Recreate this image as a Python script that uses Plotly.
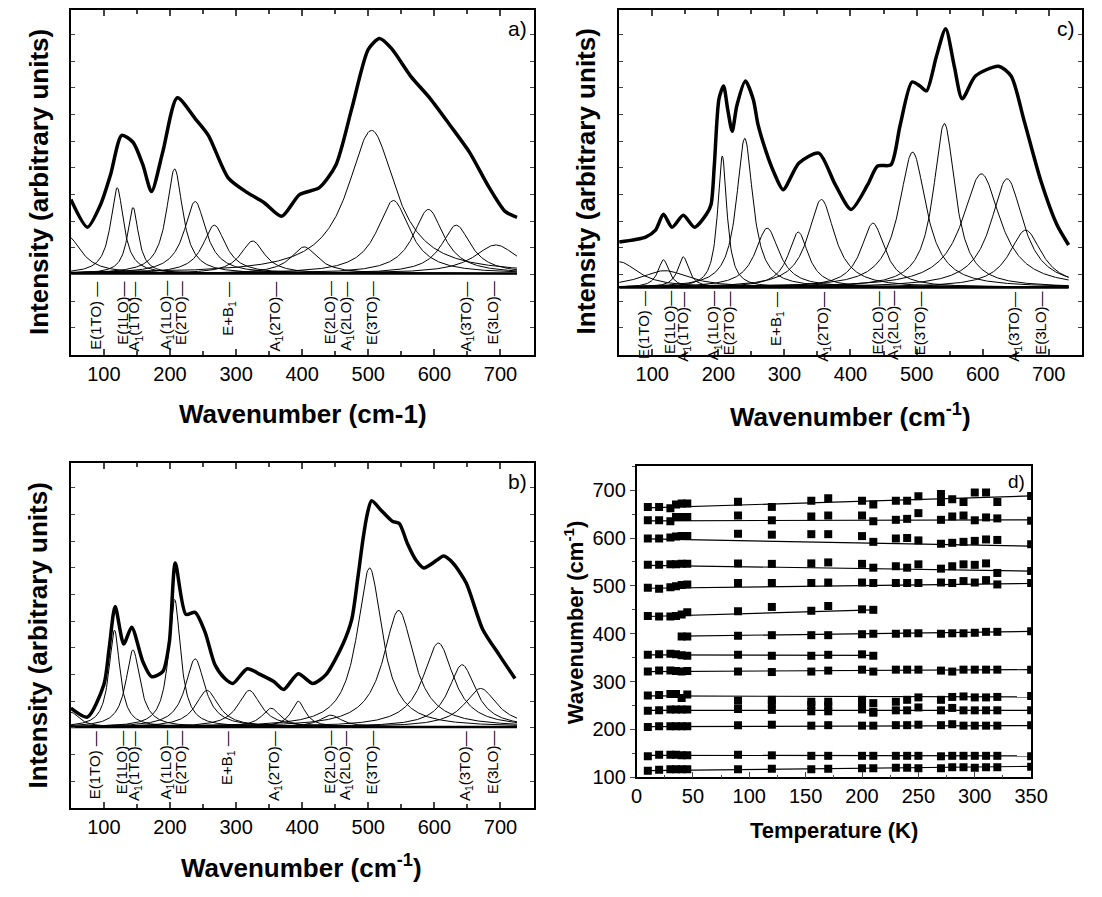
import numpy as np
import plotly.graph_objects as go

FONT = "Liberation Sans, Arial, Helvetica, sans-serif"
W, H = 1102, 897

# ---------------- data ----------------
mode_labels = ["E(1TO) \u2014", "E(1LO)\u2014", "A<sub>1</sub>(1TO)\u2014", "A<sub>1</sub>(1LO)\u2014",
               "E(2TO)\u2014", "E+B<sub>1</sub> \u2014", "A<sub>1</sub>(2TO)\u2014", "E(2LO)\u2014",
               "A<sub>1</sub>(2LO)\u2014", "E(3TO)\u2014", "A<sub>1</sub>(3TO)\u2014", "E(3LO)\u2014"]
mode_wn = [87, 127, 147, 194, 216, 288, 359, 441, 466, 505, 648, 688]

# panel a: measured spectrum
a_wn = [50, 75, 95, 110, 127, 144, 159, 172, 189, 211, 238, 258, 288, 317, 342, 369, 396, 426, 451,
        475, 500, 517, 535, 564, 594, 624, 653, 683, 707, 725]
a_int = [75, 47, 70, 100, 140, 133, 110, 83, 123, 178, 157, 140, 97, 82, 72, 58, 80, 87, 110,
         167, 227, 238, 228, 200, 177, 150, 123, 87, 63, 57]
# panel a: fitted bands (centre, height, half width)
a_cen = [45, 120, 144, 207, 238, 267, 325, 403, 505, 538, 591, 633, 693]
a_hgt = [38, 87, 67, 106, 73, 49, 33, 27, 145, 74, 65, 49, 29]
a_hw = [25, 12, 10, 15, 20, 21, 22, 25, 44, 30, 28, 27, 40]

# panel b
b_wn = [50, 75, 100, 108, 117, 130, 142, 159, 172, 189, 199, 208, 224, 238, 253, 268, 283, 295, 317,
        337, 357, 372, 394, 416, 436, 461, 475, 484, 492, 498, 505, 520, 537, 547, 559, 572, 584, 604,
        614, 628, 648, 673, 698, 722]
b_int = [19, 10, 43, 80, 122, 84, 101, 66, 51, 56, 86, 166, 114, 116, 96, 63, 49, 44, 59,
         53, 46, 38, 54, 44, 53, 83, 109, 150, 190, 214, 229, 219, 208, 206, 186, 169, 161, 169,
         173, 166, 146, 99, 73, 49]
b_cen = [50, 116, 144, 207, 238, 256, 320, 353, 394, 443, 502, 546, 606, 642, 670]
b_hgt = [15, 98, 78, 129, 69, 37, 37, 19, 26, 12, 161, 118, 85, 63, 39]
b_hw = [15, 10, 13, 11, 18, 21, 21, 17, 13, 20, 23, 28, 28, 25, 30]

# panel c
c_wn = [50, 90, 105, 117, 130, 147, 164, 182, 189, 194, 201, 208, 214, 221, 228, 241, 253, 260, 272,
        285, 298, 322, 352, 377, 401, 426, 441, 461, 475, 493, 505, 515, 530, 544, 557, 569, 589,
        624, 643, 663, 688, 712, 730]
c_int = [46, 51, 58, 74, 61, 73, 61, 74, 84, 124, 191, 204, 181, 158, 184, 209, 190, 165, 138,
         115, 99, 126, 136, 104, 79, 104, 123, 124, 164, 208, 204, 199, 234, 262, 224, 191, 214,
         224, 214, 168, 108, 64, 43]
c_cen = [50, 119, 117, 147, 206, 240, 274, 321, 356, 434, 494, 542, 598, 637, 665]
c_hgt = [26, 17, 28, 31, 133, 151, 60, 56, 89, 65, 137, 166, 115, 110, 58]
c_hw = [35, 45, 10, 10, 8.5, 15, 22, 18.5, 24.5, 22, 25, 20, 35, 30, 30]

# panel d: mode frequency vs temperature
temps = [10, 20, 30, 35, 40, 45, 90, 120, 155, 170, 200, 210, 230, 240, 250, 270, 280, 290, 300, 310, 320, 350]
d_s1 = [114, 116, 117, 117, 117, 117, 117, 118, 117, 118, 119, 119, 120, 120, 119, 119, 121, 121, 120, 121, 121, 122]
d_s2 = [144, 147, 147, 147, 146, 146, 147, 146, 145, 145, 145, 145, 145, 145, 145, 144, 145, 145, 145, 145, 145, 144]
d_s3 = [205, 207, 207, 207, 207, 207, 209, 210, 208, 209, 208, 208, 209, 209, 210, 209, 211, 208, 208, 208, 208, 209]
d_s4 = [239, 240, 242, 242, 242, 242, 243, 241, 238, 238, 242, 235, 240, 240, 246, 240, 245, 240, 240, 240, 240, 240]
d_s5 = [271, 272, 274, 274, 266, 273, 260, 262, 258, 258, 262, 255, 258, 262, 267, 262, 268, 269, 267, 267, 268, 270]
d_s6 = [321, 323, 323, 322, 321, 322, 321, 320, 321, 323, 325, 321, 325, 325, 325, 323, 321, 325, 325, 325, 325, 325]
d_s8 = [None, None, None, None, 394, 394, 396, 397, 397, 397, 399, 400, 400, 401, 401, 400, 401, 401, 402, 404, 404, 405]
d_s10 = [496, 494, 497, 499, 502, 503, 506, 506, 506, 507, 507, 506, 506, 506, 506, 507, 506, 510, 507, 512, 503, 506]
d_s11 = [544, 544, 545, 545, 546, 546, 547, 546, 547, 549, 546, 538, 541, 538, 545, 536, 541, 545, 544, 547, 527, 531]
d_s12 = [599, 599, 601, 603, 604, 604, 609, 607, 608, 608, 604, 592, 599, 600, 595, 588, 590, 592, 594, 597, 596, 587]
d_s13 = [637, 637, 635, 644, 644, 644, 647, 637, 645, 647, 647, 635, 638, 640, 652, 638, 645, 647, 637, 643, 641, 636]
d_s14 = [665, 665, 662, 670, 672, 672, 676, 665, 678, 683, 678, 670, 678, 678, 687, 692, 681, 675, 695, 695, 675, 688]
temps_low = [10, 20, 30, 35, 40, 45, 90, 120, 155, 170, 200, 210]
d_s7 = [356, 357, 358, 357, 355, 354, 356, 354, 354, 356, 357, 354]
d_s9 = [437, 436, 436, 437, 440, 445, 447, 456, 448, 458, 451, 450]
extra_t = [120, 155, 170, 200, 210, 270]
extra_v = [254, 251, 250, 255, 237, 675]
# straight guide lines: start T, start value, end T, end value
fit_t0 = [10, 10, 10, 10, 10, 10, 10, 40, 10, 10, 10, 10, 10, 10]
fit_v0 = [114, 146, 206, 240, 270, 321, 356, 395, 436, 495, 543, 598, 636, 663]
fit_t1 = [350, 350, 350, 350, 350, 350, 210, 350, 210, 350, 350, 350, 350, 350]
fit_v1 = [123, 145, 208, 240, 268, 325, 355, 405, 450, 505, 531, 583, 638, 688]


def lorentz(w, c, h, g):
    return h * g ** 2 / ((w - c) ** 2 + g ** 2)


fig = go.Figure()

def dom_y(top, bottom):
    return [1 - bottom / H, 1 - top / H]

spectra = [
    ("a", "x", "y", (a_wn, a_int), (a_cen, a_hgt, a_hw), (66.25, 538.75), (10, 359), (-82, 267), -6, 725),
    ("b", "x2", "y2", (b_wn, b_int), (b_cen, b_hgt, b_hw), (66.25, 538.75), (469, 818), (-82, 267), -2, 725),
    ("c", "x3", "y3", (c_wn, c_int), (c_cen, c_hgt, c_hw), (626.25, 1098.75), (10, 359), (-68, 281), -2, 730),
]

for name, xa, ya, spec, bands, xd, yd, yr, laby, wmax in spectra:
    grid = np.arange(50, wmax + 1, 1.0)
    for c, h, g in zip(*bands):
        fig.add_trace(go.Scatter(x=grid, y=lorentz(grid, c, h, g), mode="lines",
                                 line=dict(color="black", width=1), xaxis=xa, yaxis=ya,
                                 showlegend=False, hoverinfo="skip"))
    fig.add_trace(go.Scatter(x=[50, wmax], y=[0, 0], mode="lines",
                             line=dict(color="black", width=2.5), xaxis=xa, yaxis=ya, showlegend=False))
    fig.add_trace(go.Scatter(x=spec[0], y=spec[1], mode="lines",
                             line=dict(color="black", width=3.5, shape="spline", smoothing=0.7),
                             xaxis=xa, yaxis=ya, showlegend=False))
    for lab, wn in zip(mode_labels, mode_wn):
        fig.add_annotation(x=wn, y=laby, xref=xa, yref=ya, text=lab, textangle=-90,
                           xanchor="center", yanchor="top", showarrow=False,
                           font=dict(family=FONT, size=15, color="black"))
    axn = xa.replace("x", "xaxis") if xa != "x" else "xaxis"
    ayn = ya.replace("y", "yaxis") if ya != "y" else "yaxis"
    fig.layout[axn] = dict(domain=[xd[0] / W, xd[1] / W], range=[50, 750], anchor=ya,
                           tickvals=list(range(100, 701, 100)), ticks="inside", ticklen=6,
                           tickwidth=1.5, minor=dict(tickvals=list(range(50, 751, 100)), ticks="inside",
                                                     ticklen=4),
                           showline=True, linewidth=2, linecolor="black", mirror="ticks",
                           showgrid=False, zeroline=False,
                           tickfont=dict(family=FONT, size=20, color="black"))
    fig.layout[ayn] = dict(domain=dom_y(*yd), range=list(yr), anchor=xa, showticklabels=False,
                           ticks="inside", ticklen=4, dtick=27, tick0=yr[0],
                           showline=True, linewidth=2, linecolor="black", mirror="ticks",
                           showgrid=False, zeroline=False)
    fig.add_annotation(xref=xa + " domain", yref=ya + " domain", x=0.99, y=0.985,
                       text=name + ")", showarrow=False, xanchor="right", yanchor="top",
                       font=dict(family=FONT, size=21, color="black"))

# panel d
series_full = [d_s1, d_s2, d_s3, d_s4, d_s5, d_s6, d_s8, d_s10, d_s11, d_s12, d_s13, d_s14]
for t0, v0, t1, v1 in zip(fit_t0, fit_v0, fit_t1, fit_v1):
    fig.add_trace(go.Scatter(x=[t0, t1], y=[v0, v1], mode="lines", line=dict(color="black", width=1.2),
                             xaxis="x4", yaxis="y4", showlegend=False))
marker = dict(symbol="square", size=8, color="black")
for s in series_full:
    fig.add_trace(go.Scatter(x=temps, y=s, mode="markers", marker=marker,
                             xaxis="x4", yaxis="y4", showlegend=False))
for s in (d_s7, d_s9):
    fig.add_trace(go.Scatter(x=temps_low, y=s, mode="markers", marker=marker,
                             xaxis="x4", yaxis="y4", showlegend=False))
fig.add_trace(go.Scatter(x=extra_t, y=extra_v, mode="markers", marker=marker,
                         xaxis="x4", yaxis="y4", showlegend=False))

fig.layout["xaxis4"] = dict(domain=[644 / W, 1047 / W], range=[0, 350], anchor="y4",
                            tickvals=list(range(0, 351, 50)), ticks="inside", ticklen=6,
                            minor=dict(tickvals=list(range(25, 351, 50)), ticks="inside", ticklen=3),
                            showline=True, linewidth=1.5, linecolor="black", mirror=True,
                            showgrid=False, zeroline=False,
                            tickfont=dict(family=FONT, size=20, color="black"))
fig.layout["yaxis4"] = dict(domain=dom_y(472, 787), range=[100, 750], anchor="x4",
                            tickvals=list(range(100, 701, 100)), ticks="outside", ticklen=5,
                            minor=dict(tickvals=list(range(150, 751, 100)), ticks="outside", ticklen=3),
                            showline=True, linewidth=1.5, linecolor="black", mirror=True,
                            showgrid=False, zeroline=False,
                            tickfont=dict(family=FONT, size=20, color="black"))
fig.add_annotation(xref="x4 domain", yref="y4 domain", x=0.99, y=0.99, text="d)", showarrow=False,
                   xanchor="right", yanchor="top", font=dict(family=FONT, size=19, color="black"))

# axis titles
def title(text, xp, yp, size, angle=0):
    fig.add_annotation(xref="paper", yref="paper", x=xp / W, y=1 - yp / H, text=text,
                       textangle=angle, showarrow=False, xanchor="center", yanchor="middle",
                       font=dict(family=FONT, size=size, color="black", weight="bold"))

title("Wavenumber (cm-1)", 303, 419, 26)
title("Wavenumber (cm<sup>-1</sup>)", 302, 877, 26)
title("Wavenumber (cm<sup>-1</sup>)", 862, 421, 26)
title("Temperature (K)", 846, 841, 22)
title("Intensity (arbitrary units)", 33, 184, 26, -90)
title("Intensity (arbitrary units)", 33, 643, 26, -90)
title("Intensity (arbitrary units)", 592, 184, 26, -90)
title("Wavenumber (cm<sup>-1</sup>)", 580, 630, 22, -90)

fig.update_layout(width=W, height=H, margin=dict(l=0, r=0, t=0, b=0),
                  plot_bgcolor="white", paper_bgcolor="white", showlegend=False,
                  font=dict(family=FONT, color="black"))

fig.write_html("out.html")
